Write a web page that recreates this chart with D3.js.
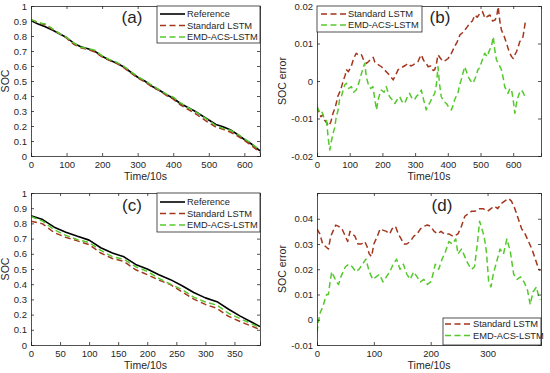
<!DOCTYPE html>
<html><head><meta charset="utf-8">
<script src="https://cdn.jsdelivr.net/npm/d3@7"></script>
<style>body{margin:0;background:#fff}svg{display:block}text{font-family:"Liberation Sans",Arial,sans-serif;fill:#262626}</style>
</head><body><svg id="c" width="550" height="373"></svg>
<script>
// ---------- Data ----------
const seriesNames = ["Reference", "Standard LSTM", "EMD-ACS-LSTM"];

// Panel (a): SOC, first test
const tA = [0,20,40,60,80,100,120,140,160,180,200,220,240,260,280,300,320,340,360,380,400,420,440,460,480,500,520,540,560,580,600,620,644];
const refA = [0.902,0.880,0.862,0.840,0.815,0.790,0.752,0.728,0.715,0.698,0.665,0.640,0.620,0.595,0.560,0.525,0.500,0.465,0.440,0.410,0.385,0.350,0.325,0.300,0.270,0.240,0.210,0.195,0.175,0.145,0.110,0.080,0.035];
const stdA = [0.909,0.890,0.873,0.845,0.815,0.786,0.745,0.722,0.710,0.693,0.661,0.638,0.619,0.591,0.555,0.520,0.494,0.461,0.437,0.405,0.379,0.341,0.313,0.286,0.253,0.222,0.193,0.178,0.160,0.135,0.104,0.070,0.022];
const emdA = [0.909,0.889,0.880,0.849,0.817,0.791,0.754,0.725,0.716,0.705,0.667,0.644,0.626,0.600,0.564,0.530,0.502,0.472,0.443,0.414,0.392,0.355,0.325,0.298,0.270,0.236,0.203,0.184,0.172,0.148,0.115,0.083,0.039];

// Panel (b): SOC error, first test
const tStdB = [0,6,12,18,23,30,36,42,49,56,64,72,80,86,90,96,105,112,120,128,136,143,151,158,166,172,177,185,197,206,217,225,233,240,248,256,263,271,279,287,294,302,309,314,319,326,333,340,348,355,360,365,370,378,386,393,401,410,421,429,437,444,452,460,467,475,483,490,498,506,514,521,529,537,545,550,554,559,564,572,580,585,590,595,600,605,610,615,620,625,630,634,638];
const errStdB = [-0.0068,-0.0085,-0.0095,-0.0090,-0.0104,-0.0112,-0.0120,-0.0110,-0.0086,-0.0070,-0.0040,-0.0025,0.0000,0.0015,0.0030,0.0025,0.0040,0.0060,0.0074,0.0068,0.0070,0.0055,0.0047,0.0052,0.0060,0.0063,0.0050,0.0045,0.0038,0.0030,0.0020,0.0012,0.0003,0.0015,0.0030,0.0034,0.0038,0.0042,0.0047,0.0040,0.0043,0.0048,0.0052,0.0062,0.0070,0.0055,0.0048,0.0038,0.0040,0.0028,0.0030,0.0045,0.0070,0.0060,0.0052,0.0055,0.0060,0.0072,0.0092,0.0105,0.0123,0.0128,0.0136,0.0145,0.0154,0.0160,0.0176,0.0170,0.0180,0.0185,0.0167,0.0172,0.0176,0.0160,0.0163,0.0175,0.0198,0.0160,0.0136,0.0120,0.0100,0.0085,0.0074,0.0065,0.0060,0.0070,0.0078,0.0090,0.0105,0.0110,0.0118,0.0140,0.0163];
const tEmdB = [0,6,13,20,29,34,39,44,49,54,59,64,69,75,80,85,90,97,105,112,120,128,136,141,146,151,156,164,171,177,182,187,192,197,205,212,217,222,230,238,245,253,260,268,275,283,290,298,305,312,319,326,334,340,344,352,360,365,370,375,380,388,396,403,411,416,421,426,431,436,441,446,452,457,462,470,477,485,492,497,502,507,513,520,528,534,539,544,549,556,564,569,574,579,584,590,595,600,605,610,615,620,625,630,636];
const errEmdB = [-0.0068,-0.0080,-0.0077,-0.0095,-0.0104,-0.0150,-0.0184,-0.0160,-0.0140,-0.0125,-0.0095,-0.0080,-0.0050,-0.0040,-0.0024,-0.0010,-0.0006,-0.0020,-0.0015,-0.0030,-0.0024,-0.0005,0.0020,0.0035,0.0047,0.0010,-0.0006,-0.0020,-0.0015,-0.0050,-0.0077,-0.0050,-0.0035,-0.0024,-0.0030,-0.0015,-0.0030,-0.0042,-0.0050,-0.0060,-0.0050,-0.0042,-0.0055,-0.0060,-0.0045,-0.0033,-0.0045,-0.0050,-0.0040,-0.0035,-0.0024,-0.0050,-0.0077,-0.0065,-0.0060,-0.0045,-0.0033,-0.0010,0.0038,-0.0010,-0.0042,-0.0055,-0.0060,-0.0070,-0.0077,-0.0065,-0.0050,-0.0040,-0.0033,-0.0010,0.0003,0.0020,0.0038,0.0025,0.0012,0.0000,-0.0006,0.0010,0.0030,0.0035,0.0047,0.0060,0.0074,0.0065,0.0083,0.0095,0.0118,0.0080,0.0056,0.0045,0.0030,0.0010,-0.0015,-0.0025,-0.0033,-0.0020,-0.0024,-0.0050,-0.0086,-0.0060,-0.0042,-0.0030,-0.0024,-0.0030,-0.0042];

// Panel (c): SOC, second test
const tC = [0,20,40,60,80,100,120,140,160,180,200,220,240,260,280,300,320,340,360,380,394];
const refC = [0.851,0.825,0.775,0.742,0.715,0.690,0.640,0.605,0.580,0.530,0.500,0.462,0.430,0.390,0.345,0.310,0.285,0.235,0.190,0.150,0.121];
const stdC = [0.815,0.797,0.739,0.708,0.685,0.660,0.605,0.569,0.550,0.495,0.463,0.427,0.397,0.349,0.302,0.267,0.241,0.188,0.154,0.123,0.102];
const emdC = [0.845,0.815,0.758,0.721,0.693,0.674,0.623,0.581,0.564,0.515,0.485,0.438,0.400,0.365,0.315,0.283,0.262,0.208,0.173,0.139,0.113];

// Panel (d): SOC error, second test
const tStdD = [0,5,10,15,20,24,28,33,38,44,50,54,58,62,67,72,78,84,88,92,96,100,106,111,116,122,128,132,138,143,148,153,158,164,170,176,182,188,194,200,206,212,218,224,232,240,248,254,260,266,272,278,285,292,300,306,312,318,324,330,337,342,348,354,360,366,372,378,384,390,393];
const errStdD = [0.036,0.034,0.030,0.029,0.028,0.033,0.035,0.0375,0.037,0.036,0.033,0.031,0.035,0.034,0.033,0.030,0.030,0.031,0.029,0.026,0.025,0.030,0.033,0.036,0.0355,0.035,0.034,0.036,0.037,0.034,0.032,0.030,0.030,0.031,0.033,0.034,0.036,0.037,0.0375,0.037,0.035,0.034,0.035,0.034,0.034,0.033,0.034,0.037,0.041,0.042,0.043,0.043,0.044,0.044,0.043,0.044,0.045,0.044,0.046,0.047,0.048,0.047,0.044,0.040,0.036,0.034,0.031,0.028,0.024,0.020,0.0195];
const tEmdD = [0,3,6,10,14,17,20,23,26,30,34,38,42,46,50,56,62,68,74,80,86,92,98,104,110,116,122,128,134,140,146,152,158,164,170,176,182,188,194,200,204,208,214,220,226,232,238,244,248,254,260,266,272,277,282,286,290,294,298,302,306,310,316,322,328,334,340,346,352,358,364,370,375,380,386,390,393];
const errEmdD = [-0.005,0.000,0.003,0.005,0.008,0.010,0.010,0.015,0.019,0.017,0.015,0.014,0.017,0.019,0.021,0.022,0.021,0.019,0.020,0.022,0.024,0.019,0.016,0.017,0.018,0.015,0.017,0.019,0.022,0.024,0.020,0.022,0.018,0.016,0.019,0.017,0.015,0.016,0.014,0.015,0.018,0.022,0.020,0.024,0.027,0.031,0.030,0.032,0.026,0.028,0.025,0.022,0.020,0.021,0.030,0.039,0.036,0.033,0.027,0.015,0.013,0.018,0.023,0.028,0.026,0.032,0.027,0.018,0.016,0.017,0.015,0.012,0.006,0.011,0.013,0.009,0.008];

const ticksSOC = [0,0.1,0.2,0.3,0.4,0.5,0.6,0.7,0.8,0.9,1];
const ticksB = [-0.02,-0.01,0,0.01,0.02];
const ticksD = [-0.01,0,0.01,0.02,0.03,0.04];
const xticksA = [0,100,200,300,400,500,600];
const xticksC = [0,50,100,150,200,250,300,350];
const xticksD = [0,100,200,300];

// ---------- Styles ----------
const colRef = "#000000", colStd = "#A3361C", colEmd = "#55C92C";
const fmt = v => { if (v === 0) return "0"; if (v === 1) return "1"; return String(+v.toFixed(3)); };

const svg = d3.select("#c");

function panel(o) {
  const g = svg.append("g");
  const x = d3.scaleLinear().domain(o.xd).range([o.l, o.r]);
  const y = d3.scaleLinear().domain(o.yd).range([o.b, o.t]);
  const clipId = "clip" + o.label.replace(/[()]/g, "");
  svg.append("clipPath").attr("id", clipId).append("rect")
    .attr("x", o.l).attr("y", o.t).attr("width", o.r - o.l).attr("height", o.b - o.t);
  const line = d3.line().x(d => x(d[0])).y(d => y(d[1]));
  o.series.forEach(s => {
    g.append("path").attr("clip-path", `url(#${clipId})`)
      .datum(d3.zip(s.t, s.v)).attr("d", line)
      .attr("fill", "none").attr("stroke", s.color).attr("stroke-width", s.w || 1.5)
      .attr("stroke-dasharray", s.dash || null).attr("stroke-linejoin", "round");
  });
  const tl = 3;
  const ax = g.append("g");
  ax.append("g").attr("transform", `translate(0,${o.b})`)
    .call(d3.axisBottom(x).tickValues(o.xt).tickSize(-tl).tickPadding(5).tickFormat(fmt));
  ax.append("g").attr("transform", `translate(0,${o.t})`)
    .call(d3.axisTop(x).tickValues(o.xt).tickSize(-tl).tickFormat(""));
  ax.append("g").attr("transform", `translate(${o.l},0)`)
    .call(d3.axisLeft(y).tickValues(o.yt).tickSize(-tl).tickPadding(4).tickFormat(fmt));
  ax.append("g").attr("transform", `translate(${o.r},0)`)
    .call(d3.axisRight(y).tickValues(o.yt).tickSize(-tl).tickFormat(""));
  ax.selectAll(".domain").attr("stroke", "#262626").attr("stroke-width", 0.8);
  ax.selectAll(".tick line").attr("stroke", "#262626").attr("stroke-width", 0.8);
  ax.selectAll(".tick text").attr("font-size", 9.5).attr("fill", "#262626")
    .attr("font-family", '"Liberation Sans",Arial,sans-serif');
  g.append("text").attr("x", (o.l + o.r) / 2).attr("y", o.b + 24).attr("text-anchor", "middle")
    .attr("font-size", 10.5).text("Time/10s");
  g.append("text").attr("transform", `translate(${o.ylx},${(o.t + o.b) / 2}) rotate(-90)`)
    .attr("text-anchor", "middle").attr("font-size", 10.5).text(o.ylabel);
  g.append("text").attr("x", o.px).attr("y", o.py).attr("text-anchor", "middle")
    .attr("font-family", '"Liberation Serif","Times New Roman",serif').attr("font-size", 17)
    .attr("fill", "#000").text(o.label);
  const L = o.leg;
  g.append("rect").attr("x", L.x0).attr("y", L.y0).attr("width", L.x1 - L.x0).attr("height", L.y1 - L.y0)
    .attr("fill", "#fff").attr("stroke", "#262626").attr("stroke-width", 0.8);
  L.items.forEach((s, i) => {
    const yy = L.ys[i];
    g.append("line").attr("x1", L.lx0).attr("x2", L.lx1).attr("y1", yy).attr("y2", yy)
      .attr("stroke", s.color).attr("stroke-width", s.w || 1.5).attr("stroke-dasharray", s.dash || null);
    g.append("text").attr("x", L.tx).attr("y", yy + 3.4).attr("font-size", 9.3)
      .attr("textLength", s.name.length > 10 ? null : null).attr("fill", "#000").text(s.name);
  });
}

const dash = "6,3.5";
const sRef = (t, v) => ({ name: seriesNames[0], t, v, color: colRef, w: 1.6 });
const sStd = (t, v) => ({ name: seriesNames[1], t, v, color: colStd, dash });
const sEmd = (t, v) => ({ name: seriesNames[2], t, v, color: colEmd, dash });

panel({ l: 31, r: 260, t: 6, b: 156, xd: [0, 644], yd: [0, 1], xt: xticksA, yt: ticksSOC,
  ylabel: "SOC", ylx: 9, label: "(a)", px: 132, py: 23,
  series: [sRef(tA, refA), sStd(tA, stdA), sEmd(tA, emdA)],
  leg: { x0: 157, x1: 260, y0: 6, y1: 43, ys: [14, 25.5, 37], lx0: 160, lx1: 185, tx: 187,
    items: [sRef(tA, refA), sStd(tA, stdA), sEmd(tA, emdA)] } });

panel({ l: 317, r: 541, t: 6, b: 156, xd: [0, 685], yd: [-0.02, 0.02], xt: xticksA, yt: ticksB,
  ylabel: "SOC error", ylx: 286, label: "(b)", px: 440, py: 23,
  series: [sStd(tStdB, errStdB), sEmd(tEmdB, errEmdB)],
  leg: { x0: 317, x1: 422, y0: 6, y1: 32, ys: [14, 25], lx0: 321, lx1: 346, tx: 348,
    items: [sStd(tStdB, errStdB), sEmd(tEmdB, errEmdB)] } });

panel({ l: 31, r: 260, t: 193, b: 345, xd: [0, 394], yd: [0, 1], xt: xticksC, yt: ticksSOC,
  ylabel: "SOC", ylx: 9, label: "(c)", px: 132, py: 211,
  series: [sRef(tC, refC), sStd(tC, stdC), sEmd(tC, emdC)],
  leg: { x0: 157, x1: 260, y0: 193, y1: 232, ys: [202, 213.5, 225], lx0: 160, lx1: 185, tx: 187,
    items: [sRef(tC, refC), sStd(tC, stdC), sEmd(tC, emdC)] } });

panel({ l: 317, r: 541, t: 193, b: 345, xd: [0, 394], yd: [-0.01, 0.0502], xt: xticksD, yt: ticksD,
  ylabel: "SOC error", ylx: 286, label: "(d)", px: 442, py: 211,
  series: [sStd(tStdD, errStdD), sEmd(tEmdD, errEmdD)],
  leg: { x0: 443, x1: 541, y0: 318, y1: 345, ys: [324, 335.5], lx0: 445, lx1: 471, tx: 473,
    items: [sStd(tStdD, errStdD), sEmd(tEmdD, errEmdD)] } });
</script></body></html>
